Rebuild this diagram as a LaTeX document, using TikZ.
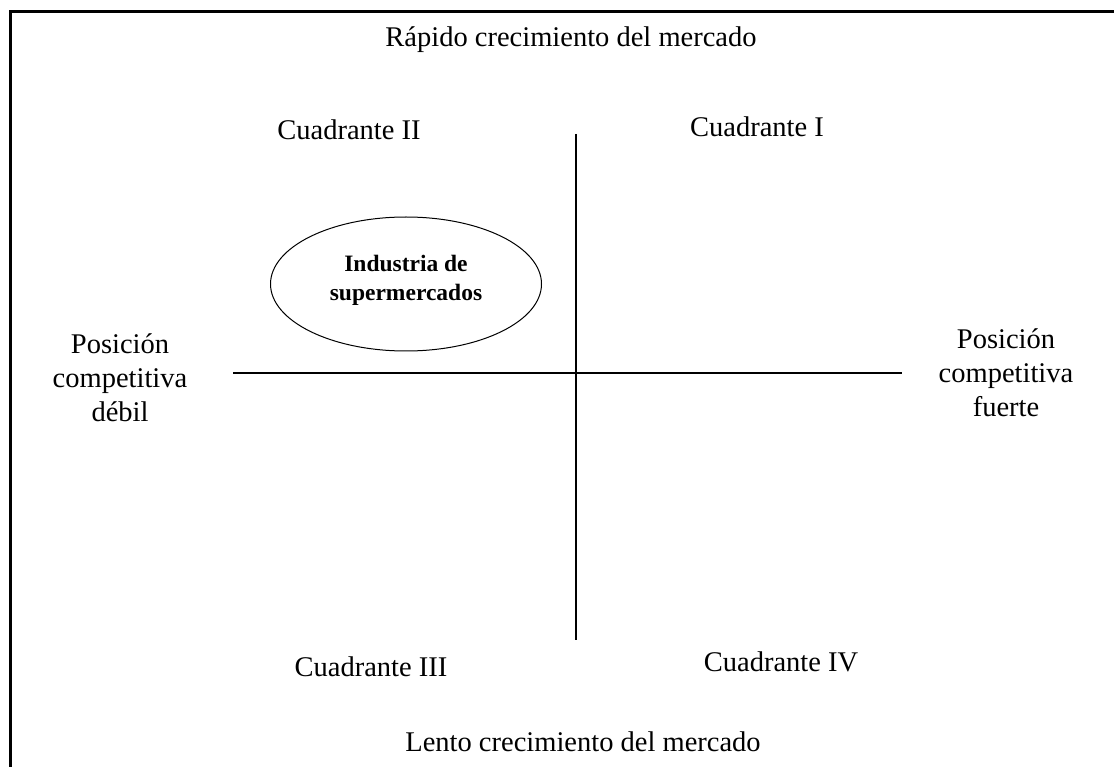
\documentclass[tikz,border=0pt]{standalone}
\usepackage{fontspec}
\setmainfont{Liberation Serif}
\usetikzlibrary{shapes.geometric}
\begin{document}
\begin{tikzpicture}[x=1pt,y=-1pt,
  lbl/.style={font=\fontsize{28.5}{34}\selectfont, align=center, inner sep=0pt},
  inlbl/.style={font=\fontsize{23.5}{29}\selectfont\bfseries, align=center, inner sep=0pt},
  axis/.style={line width=1.3pt},
  frame/.style={line width=3pt}]
\useasboundingbox (0,0) rectangle (1114,767);
\coordinate (fl) at (10,767);
\coordinate (fc) at (10,12);
\coordinate (fr) at (1114,12);
\draw[frame] (fl) -- (fc) -- (fr);
\node[lbl] (top) at (571,40) {Rápido crecimiento del mercado};
\node[lbl] (bot) at (583,742) {Lento crecimiento del mercado};
\node[lbl] (q2) at (349,130) {Cuadrante II};
\node[lbl] (q1) at (757,127) {Cuadrante I};
\node[lbl] (q3) at (371,667) {Cuadrante III};
\node[lbl] (q4) at (781,662) {Cuadrante IV};
\node[lbl] (left) at (120,378) {Posición\\competitiva\\débil};
\node[lbl] (right) at (1006,373) {Posición\\competitiva\\fuerte};
\coordinate (vt) at (576,134);
\coordinate (vb) at (576,640);
\coordinate (hl) at (233,373);
\coordinate (hr) at (902,373);
\draw[axis] (vt) -- (vb);
\draw[axis] (hl) -- (hr);
\node[draw, ellipse, line width=1pt, minimum width=271pt, minimum height=134pt, inner sep=0pt] (ell) at (406,284) {};
\node[inlbl] (ind) at (406,280) {Industria de\\supermercados};
\end{tikzpicture}
\end{document}
